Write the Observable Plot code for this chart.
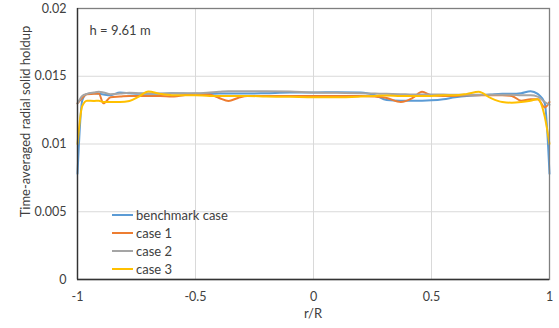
<!DOCTYPE html>
<html>
<head>
<meta charset="utf-8">
<script src="https://cdn.jsdelivr.net/npm/d3@7"></script>
<script src="https://cdn.jsdelivr.net/npm/@observablehq/plot@0.6"></script>
<style>
  html, body { margin: 0; padding: 0; background: #fff; }
  #chart { width: 559px; height: 328px; }
  svg { font-family: Lato, "Open Sans", sans-serif; }
</style>
</head>
<body>
<div id="chart"></div>
<script>
// r/R positions (shared by all series)
const rR = [-1, -0.98, -0.96, -0.93, -0.91, -0.89, -0.86, -0.82, -0.78, -0.74, -0.7, -0.65, -0.6, -0.5, -0.44, -0.4, -0.36, -0.32, -0.28, -0.2, -0.1, 0, 0.1, 0.2, 0.26, 0.31, 0.37, 0.42, 0.46, 0.5, 0.55, 0.6, 0.65, 0.7, 0.75, 0.8, 0.84, 0.88, 0.92, 0.95, 0.98, 1];

const benchmarkCase = [0.0078, 0.0132, 0.0137, 0.01375, 0.0137, 0.01365, 0.0136, 0.0138, 0.01375, 0.0137, 0.0137, 0.0137, 0.01375, 0.0137, 0.0137, 0.01372, 0.01372, 0.01372, 0.01372, 0.01375, 0.0138, 0.0138, 0.01382, 0.0138, 0.0136, 0.01325, 0.0132, 0.0132, 0.0132, 0.01322, 0.0133, 0.01345, 0.01355, 0.0136, 0.01365, 0.0137, 0.0137, 0.01375, 0.0139, 0.0137, 0.0130, 0.0078];
const case1 = [0.0130, 0.0134, 0.01368, 0.0137, 0.01372, 0.0130, 0.01345, 0.0135, 0.01355, 0.01355, 0.01355, 0.01355, 0.0135, 0.0137, 0.01365, 0.0134, 0.01318, 0.0134, 0.01355, 0.01355, 0.01355, 0.01355, 0.01355, 0.01355, 0.0135, 0.0134, 0.0131, 0.0134, 0.01385, 0.0136, 0.01355, 0.01355, 0.0136, 0.0136, 0.0136, 0.0136, 0.01355, 0.0132, 0.0133, 0.0133, 0.0127, 0.0131];
const case2 = [0.0130, 0.01355, 0.0137, 0.0138, 0.01385, 0.0138, 0.01368, 0.01372, 0.01378, 0.01375, 0.01372, 0.01372, 0.01375, 0.01375, 0.0138, 0.01385, 0.0139, 0.0139, 0.0139, 0.0139, 0.01388, 0.0138, 0.01378, 0.01375, 0.01372, 0.0137, 0.01368, 0.01365, 0.01365, 0.01365, 0.01365, 0.01363, 0.01363, 0.01363, 0.01363, 0.01363, 0.01363, 0.0136, 0.0136, 0.0135, 0.0131, 0.0129];
const case3 = [0.0100, 0.0128, 0.0132, 0.01318, 0.0132, 0.0131, 0.0131, 0.0131, 0.01318, 0.0135, 0.01388, 0.0137, 0.0136, 0.0136, 0.01355, 0.01355, 0.01355, 0.01355, 0.01355, 0.0135, 0.01348, 0.01345, 0.01345, 0.0135, 0.01355, 0.01358, 0.01355, 0.01355, 0.01355, 0.01355, 0.0136, 0.0136, 0.0137, 0.01385, 0.0134, 0.0131, 0.01305, 0.0131, 0.0132, 0.0133, 0.0120, 0.0100];

const seriesNames = ["benchmark case", "case 1", "case 2", "case 3"];
const seriesValues = [benchmarkCase, case1, case2, case3];
const seriesColors = ["#5B9BD5", "#ED7D31", "#A5A5A5", "#FFC000"];

const xTicks = [-1, -0.5, 0, 0.5, 1];
const yTicks = [0, 0.005, 0.01, 0.015, 0.02];
const annotation = "h = 9.61 m";
const xLabel = "r/R";
const yLabel = "Time-averaged radial solid holdup";

const rows = seriesNames.flatMap((name, i) => rR.map((r, j) => ({series: name, r, v: seriesValues[i][j]})));

const textColor = "#404040";

const plot = Plot.plot({
  width: 559,
  height: 328,
  marginLeft: 77,
  marginRight: 10,
  marginTop: 8,
  marginBottom: 49,
  style: {fontSize: "12.5px", fontFamily: "Lato, 'Open Sans', sans-serif", color: textColor, background: "#fff"},
  x: {domain: [-1, 1], ticks: xTicks, tickFormat: d => String(d), tickSize: 0, tickPadding: 13, label: null},
  y: {domain: [0, 0.02], ticks: yTicks, tickFormat: d => String(d), tickSize: 0, tickPadding: 11, label: null},
  color: {domain: seriesNames, range: seriesColors},
  marks: [
    Plot.gridX(xTicks.filter(d => d > -1 && d < 1), {stroke: "#D9D9D9", strokeOpacity: 1, strokeWidth: 1}),
    Plot.gridY(yTicks.filter(d => d > 0 && d < 0.02), {stroke: "#D9D9D9", strokeOpacity: 1, strokeWidth: 1}),
    Plot.line(rows, {x: "r", y: "v", z: "series", stroke: "series", strokeWidth: 2, curve: "monotone-x"}),
    Plot.frame({stroke: "#7F7F7F", strokeWidth: 1.3}),
    Plot.ruleX([-1], {stroke: "#333", strokeWidth: 1.3}),
    Plot.ruleY([0], {stroke: "#333", strokeWidth: 1.3}),
    Plot.text([annotation], {frameAnchor: "top-left", dx: 12, dy: 17, fontSize: 13, fill: textColor, textAnchor: "start"})
  ]
});

document.getElementById("chart").appendChild(plot);

const svg = d3.select(plot);
const xs = plot.scale("x");
const ys = plot.scale("y");
const x0 = xs.apply(-1), x1 = xs.apply(1);
const yBottom = ys.apply(0), yTop = ys.apply(0.02);

// axis titles
svg.append("text")
  .attr("x", (x0 + x1) / 2).attr("y", yBottom + 34)
  .attr("text-anchor", "middle").attr("dominant-baseline", "central")
  .attr("fill", textColor).style("font-size", "13px")
  .text(xLabel);
svg.append("text")
  .attr("transform", `translate(${x0 - 52},${(yTop + yBottom) / 2 - 22}) rotate(-90)`)
  .attr("text-anchor", "middle").attr("dominant-baseline", "central")
  .attr("fill", textColor).style("font-size", "13px")
  .text(yLabel);

// legend inside plot
const lg = svg.append("g");
seriesNames.forEach((name, i) => {
  const y = yBottom - 64 + i * 18;
  const lx = x0 + 35;
  lg.append("line").attr("x1", lx).attr("x2", lx + 21).attr("y1", y).attr("y2", y)
    .attr("stroke", seriesColors[i]).attr("stroke-width", 2);
  lg.append("text").attr("x", lx + 24).attr("y", y)
    .attr("text-anchor", "start").attr("dominant-baseline", "central")
    .attr("fill", textColor).style("font-size", "13px").text(name);
});
</script>
</body>
</html>
